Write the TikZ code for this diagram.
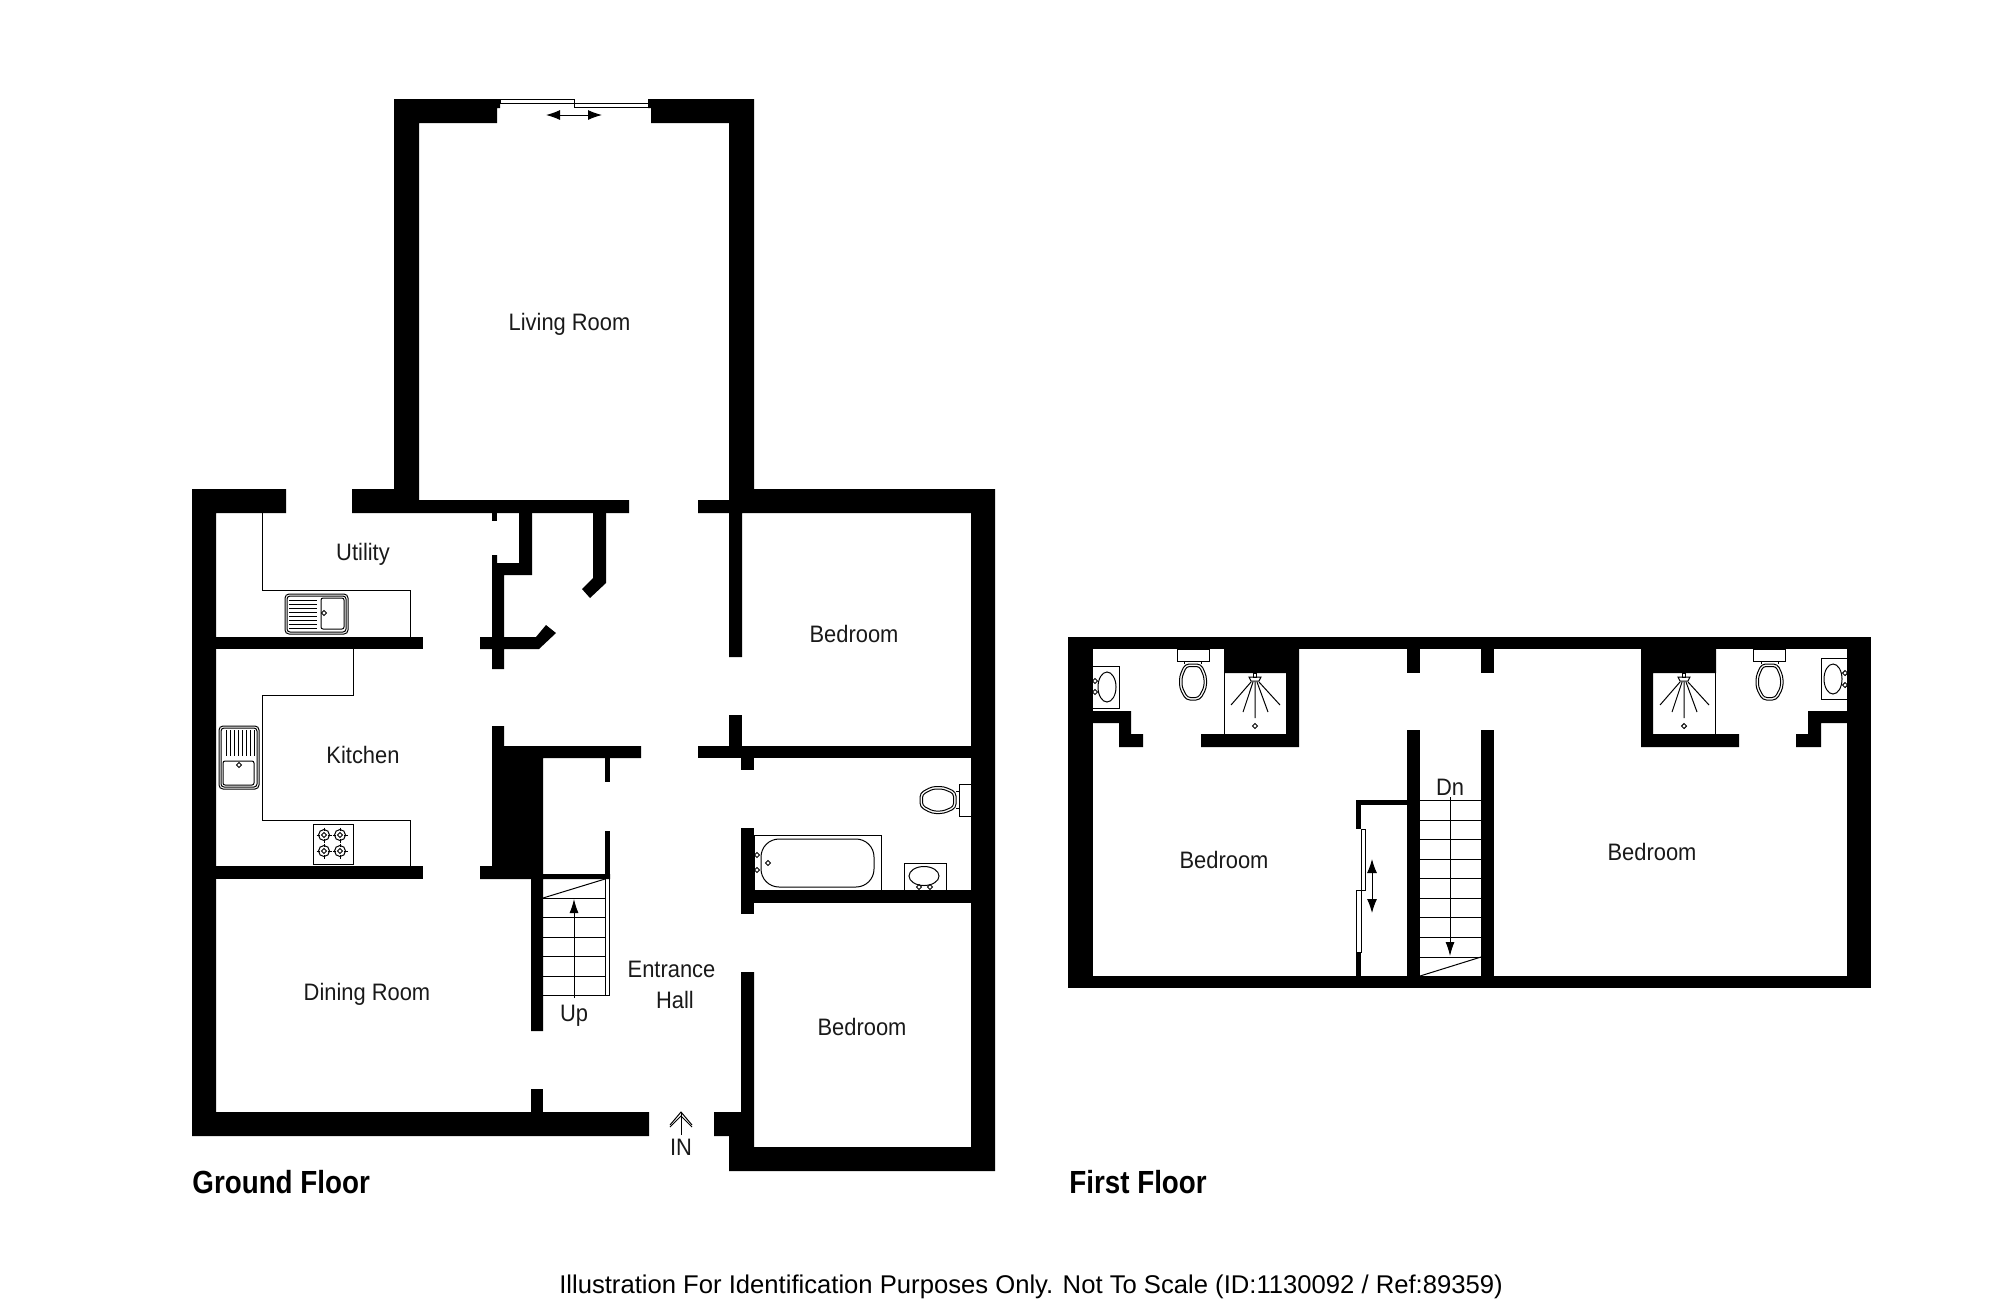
\documentclass[tikz,border=0pt]{standalone}
\usepackage{fontspec}
\setmainfont{Liberation Sans}
\newfontfamily\roomfont[FakeStretch=0.92]{Liberation Sans}
\newfontfamily\floorfont[FakeStretch=0.868]{Liberation Sans}
\usetikzlibrary{arrows.meta, positioning}

\tikzset{
  wall/.style={fill=black, draw=none},
  fitting/.style={draw=black, line width=0.5pt},
  roomlabel/.style={font=\roomfont\fontsize{11.9}{14}\selectfont, inner sep=0pt, text=black!90},
  floorlabel/.style={font=\floorfont\bfseries\fontsize{16}{18}\selectfont, inner sep=0pt, anchor=west},
  tapmark/.pic={\draw[fitting] (-2.5,0) -- (0,-2.5) -- (2.5,0) -- (0,2.5) -- cycle;},
  toilet/.pic={
    \draw[fitting, fill=white] (-16,0) rectangle (16,12);
    \draw[fitting] (-8.5,12) -- (-8.5,15) (8.5,12) -- (8.5,15);
    \draw[fitting, rounded corners=2pt] (-8,15) -- (8,15) -- (13.5,27) -- (13.5,39) -- (7,51) -- (-7,51) -- (-13.5,39) -- (-13.5,27) -- cycle;
    \draw[fitting, rounded corners=1.5pt] (-6.5,17.5) -- (6.5,17.5) -- (11,28) -- (11,38) -- (5.5,48.5) -- (-5.5,48.5) -- (-11,38) -- (-11,28) -- cycle;
  },
  shower/.pic={
    \draw[fitting] (-1.5,0) rectangle (1.5,4);
    \draw[fitting] (-6,4) -- (6,4) -- (4,8) -- (-4,8) -- cycle;
    \draw[fitting] (-4,9) -- (-24,32) (-2,9) -- (-12,39) (0,9) -- (0,45)
      (2,9) -- (13,39) (4,9) -- (25,32);
    \pic at (0,53) {tapmark};
  }
}

\begin{document}
\begin{tikzpicture}[x=0.5pt, y=-0.5pt]
  \useasboundingbox (0,0) rectangle (2000,1313);

  % ground floor walls
  \fill[wall] (192,489) -- (286,489) -- (286,513) -- (216,513) -- (216,1112) -- (649,1112) -- (649,1136) -- (192,1136) -- cycle;
  \fill[wall] (352,489) -- (394,489) -- (394,99) -- (500,99) -- (500,108) -- (497,108) -- (497,123) -- (419,123) -- (419,500) -- (629,500) -- (629,513) -- (352,513) -- cycle;
  \fill[wall] (648,99) -- (754,99) -- (754,489) -- (995,489) -- (995,1171) -- (729,1171) -- (729,1136) -- (714,1136) -- (714,1112) -- (741,1112) -- (741,972) -- (754,972) -- (754,1147) -- (971,1147) -- (971,513) -- (742,513) -- (742,657) -- (729,657) -- (729,513) -- (698,513) -- (698,500) -- (729,500) -- (729,123) -- (651,123) -- (651,108) -- (648,108) -- cycle;
  \fill[wall] (216,637) rectangle (423,649);
  \fill[wall] (216,866) rectangle (423,879);
  \fill[wall] (698,746) rectangle (971,758);
  \fill[wall] (729,715) rectangle (742,746);
  \fill[wall] (741,758) rectangle (754,770);
  \fill[wall] (741,828) rectangle (754,914);
  \fill[wall] (754,890) rectangle (971,903);
  \fill[wall] (531,1089) rectangle (543,1112);

  % cupboards and stair block
  \fill[wall] (492,513) rectangle (497,521);
  \fill[wall] (492,555) -- (497,555) -- (497,563) -- (519,563) -- (519,513) -- (532,513) -- (532,575) -- (504,575) -- (504,637) -- (536,637) -- (546,625) -- (556,633) -- (539,649) -- (504,649) -- (504,669) -- (492,669) -- (492,649) -- (480,649) -- (480,637) -- (492,637) -- cycle;
  \fill[wall] (593,513) -- (606,513) -- (606,583) -- (590,598) -- (582,589) -- (593,578) -- cycle;
  \fill[wall] (492,726) -- (504,726) -- (504,746) -- (641,746) -- (641,758) -- (543,758) -- (543,874) -- (610,874) -- (610,879) -- (543,879) -- (543,1031) -- (531,1031) -- (531,879) -- (480,879) -- (480,866) -- (492,866) -- cycle;
  \fill[wall] (605,758) rectangle (610,782);
  \fill[wall] (605,831) rectangle (610,879);

  % first floor walls
  \fill[wall] (1068,637) rectangle (1871,649);
  \fill[wall] (1068,976) rectangle (1871,988);
  \fill[wall] (1068,637) rectangle (1093,988);
  \fill[wall] (1847,637) rectangle (1871,988);
  \fill[wall] (1093,711) -- (1131,711) -- (1131,734) -- (1143,734) -- (1143,747) -- (1119,747) -- (1119,723) -- (1093,723) -- cycle;
  \fill[wall] (1224,649) -- (1299,649) -- (1299,747) -- (1201,747) -- (1201,734) -- (1286,734) -- (1286,673) -- (1224,673) -- cycle;
  \fill[wall] (1641,649) -- (1716,649) -- (1716,673) -- (1653,673) -- (1653,734) -- (1739,734) -- (1739,747) -- (1641,747) -- cycle;
  \fill[wall] (1847,711) -- (1808,711) -- (1808,734) -- (1796,734) -- (1796,747) -- (1821,747) -- (1821,723) -- (1847,723) -- cycle;
  \foreach \wx in {1407, 1481} {
    \fill[wall] (\wx,649) rectangle ++(13,24);
    \fill[wall] (\wx,730) rectangle (\wx+13,976);
  }
  \fill[wall] (1356,800) rectangle (1407,805);
  \fill[wall] (1356,800) rectangle (1361,829);
  \fill[wall] (1356,952) rectangle (1361,976);

  % sliding doors
  \draw[fitting] (500,99.5) rectangle (574,103.5);
  \draw[fitting] (574,103.5) rectangle (648,107.5);
  \draw[fitting, {Latex[length=7pt,width=5pt]}-{Latex[length=7pt,width=5pt]}] (546,115) -- (602,115);
  \draw[fitting] (1361,829) rectangle (1365,890);
  \draw[fitting] (1356.5,890) rectangle (1361,952);
  \draw[fitting, {Latex[length=7pt,width=5pt]}-{Latex[length=7pt,width=5pt]}] (1372,859) -- (1372,913);

  % kitchen units
  \draw[fitting] (262,513) -- (262,590) -- (410.5,590) -- (410.5,637);
  \draw[fitting] (353,649) -- (353,695) -- (262,695) -- (262,820) -- (410.5,820) -- (410.5,866);

  % utility sink
  \draw[fitting, rounded corners=2pt] (285,594) rectangle (348,634);
  \draw[fitting, rounded corners=1.5pt] (287,596) rectangle (346,632);
  \draw[fitting, rounded corners=1pt] (321,598) rectangle (344,629);
  \foreach \ry in {600,604,...,628} {
    \draw[fitting] (289,\ry) -- (317,\ry);
  }
  \pic at (324,613) {tapmark};

  % kitchen sink
  \draw[fitting, rounded corners=2pt] (219,726) rectangle (259,789);
  \draw[fitting, rounded corners=1.5pt] (221,728) rectangle (257,787);
  \draw[fitting, rounded corners=1pt] (223,761) rectangle (254,785);
  \foreach \rx in {226,230,...,254} {
    \draw[fitting] (\rx,730) -- (\rx,756);
  }
  \pic at (239,765) {tapmark};

  % hob
  \draw[fitting] (313,824) rectangle (353,864);
  \foreach \bx/\by in {324/835, 340/835, 324/851, 340/851} {
    \draw[fitting] (\bx,\by) circle [radius=5.5];
    \draw[fitting] (\bx-7.5,\by) -- (\bx-4,\by) (\bx+4,\by) -- (\bx+7.5,\by) (\bx,\by-7.5) -- (\bx,\by-4) (\bx,\by+4) -- (\bx,\by+7.5);
    \pic at (\bx,\by) {tapmark};
  }

  % bathroom
  \draw[fitting] (754,835) rectangle (881,890);
  \draw[fitting, rounded corners=9pt] (761,839) rectangle (874,887);
  \foreach \tx/\ty in {757/855, 757/870, 768/863, 919/887, 930/887} {
    \pic at (\tx,\ty) {tapmark};
  }
  \draw[fitting] (904,890) -- (904,863) -- (946,863) -- (946,890);
  \draw[fitting] (924,876) ellipse [x radius=15, y radius=9.5];
  \pic[rotate=-90] at (971,800) {toilet};

  % ground floor stairs
  \foreach \ry in {898,917,937,956,976,995} {
    \draw[fitting] (543,\ry) -- (605,\ry);
  }
  \draw[fitting] (543,898) -- (605,879);
  \draw[fitting] (605,879) -- (605,995);
  \draw[fitting] (609.5,879) -- (609.5,995) -- (605,995);
  \draw[fitting, -{Latex[length=7pt,width=4.5pt]}] (574,998) -- (574,899);

  % first floor stairs
  \foreach \ry in {800,820,839,859,878,898,917,937,957} {
    \draw[fitting] (1420,\ry) -- (1481,\ry);
  }
  \draw[fitting] (1420,976) -- (1481,957);
  \draw[fitting, -{Latex[length=7pt,width=4.5pt]}] (1450,797) -- (1450,956);

  % first floor fittings, left
  \draw[fitting] (1224,673) -- (1224,734);
  \pic at (1255,673) {shower};
  \draw[fitting] (1093,666) -- (1119,666) -- (1119,708) -- (1093,708);
  \draw[fitting] (1107,687) ellipse [x radius=9, y radius=15];
  \pic at (1095,681) {tapmark};
  \pic at (1095,692) {tapmark};
  \pic at (1193,649) {toilet};

  % first floor fittings, right
  \draw[fitting] (1715,673) -- (1715,734);
  \pic at (1684,673) {shower};
  \draw[fitting] (1847,658) -- (1821,658) -- (1821,699) -- (1847,699);
  \draw[fitting] (1833,679) ellipse [x radius=9, y radius=15];
  \pic at (1845,673) {tapmark};
  \pic at (1845,685) {tapmark};
  \pic at (1769.5,649) {toilet};

  % entrance arrow
  \coordinate (intip) at (681,1112);
  \coordinate (inbase) at (681,1135);
  \draw[fitting] (inbase) -- (intip);
  \draw[fitting] (670,1125) -- (intip) -- (692,1125);
  \draw[fitting] (670,1127) -- (681,1116) -- (692,1127);

  % labels
  \node[roomlabel] (livingroom) at (569.5,324.5) {Living Room};
  \node[roomlabel] (utility) at (363,554.5) {Utility};
  \node[roomlabel] (kitchen) at (363,755) {Kitchen};
  \node[roomlabel] (diningroom) at (367,994.5) {Dining Room};
  \node[roomlabel] (bedroomone) at (854,634) {Bedroom};
  \node[roomlabel] (bedroomtwo) at (862,1027) {Bedroom};
  \node[roomlabel] (entrance) at (671.5,969) {Entrance};
  \node[roomlabel] (hall) at (675,1000) {Hall};
  \node[roomlabel] (upstairs) at (574,1015.5) {Up};
  \node[roomlabel] (inlabel) at (681,1147) {IN};
  \node[roomlabel] (bedroomthree) at (1224,860) {Bedroom};
  \node[roomlabel] (bedroomfour) at (1652,852) {Bedroom};
  \node[roomlabel] (downstairs) at (1450,787) {Dn};
  \node[floorlabel] (groundfloor) at (192,1182) {Ground Floor};
  \node[floorlabel] (firstfloor) at (1069,1182) {First Floor};
  \node[font=\fontsize{12.82}{15}\selectfont, inner sep=0pt] (footer) at (1031,1286.5) {Illustration For Identification Purposes Only. Not To Scale (ID:1130092 / Ref:89359)};
\end{tikzpicture}
\end{document}
